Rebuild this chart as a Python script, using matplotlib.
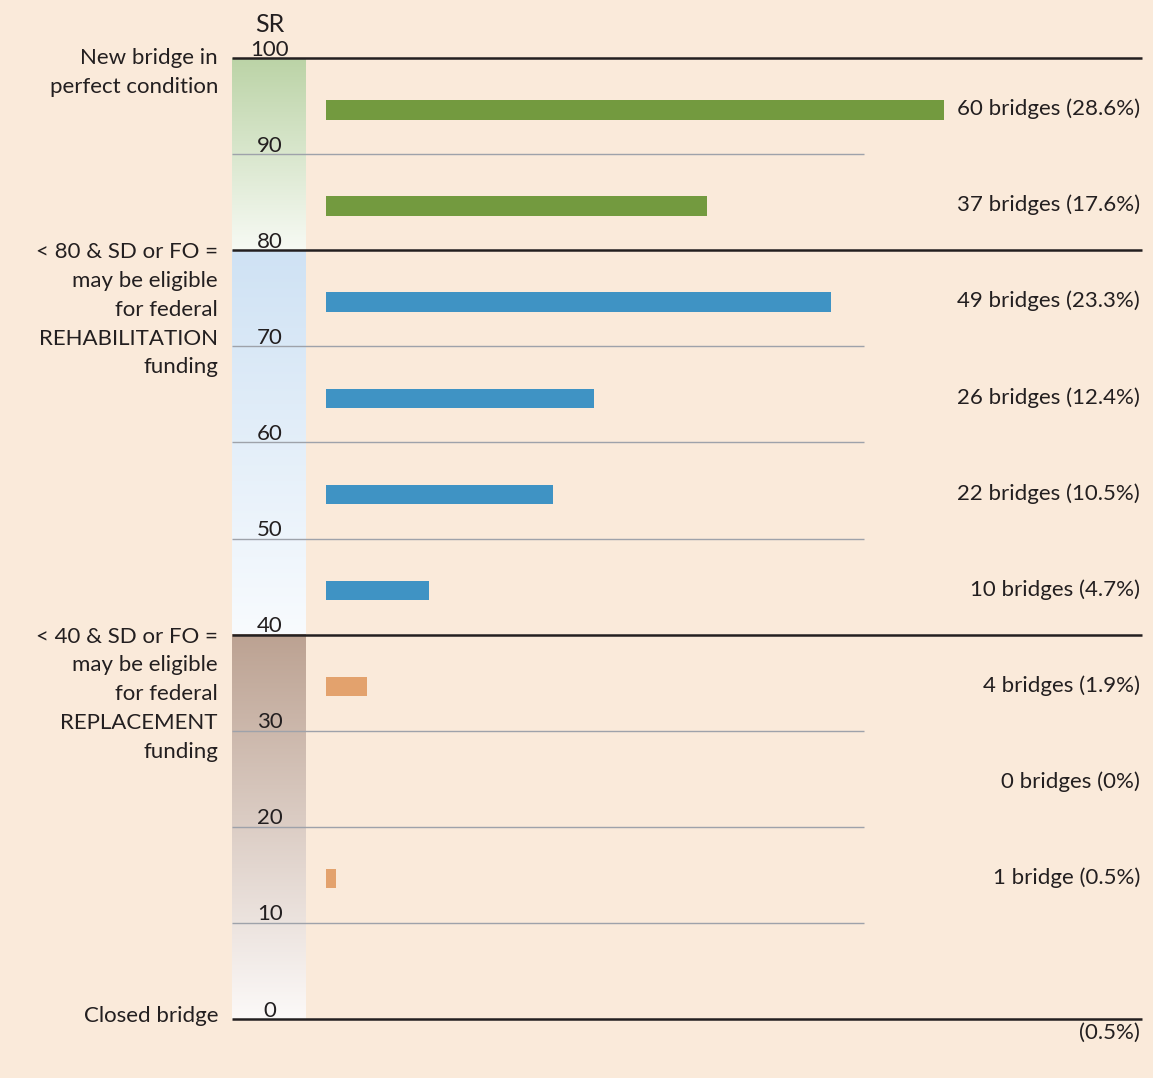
import numpy as np
import matplotlib.pyplot as plt
from matplotlib.colors import to_rgb

plt.rcParams['font.family'] = ['Lato', 'DejaVu Sans']

# sufficiency rating bins (midpoints) and bridge counts
bin_mid = [95, 85, 75, 65, 55, 45, 35, 25, 15]
counts = [60, 37, 49, 26, 22, 10, 4, 0, 1]
labels = ['60 bridges (28.6%)', '37 bridges (17.6%)', '49 bridges (23.3%)',
          '26 bridges (12.4%)', '22 bridges (10.5%)', '10 bridges (4.7%)',
          '4 bridges (1.9%)', '0 bridges (0%)', '1 bridge (0.5%)']
closed_label = '(0.5%)'
ticks = [100, 90, 80, 70, 60, 50, 40, 30, 20, 10, 0]
major = [100, 80, 40, 0]

bg = '#FAEADA'
green = '#739A3F'
blue = '#3F93C4'
orange = '#E3A26D'
ink = '#231F20'

def bar_color(v):
    if v >= 80:
        return green
    if v >= 40:
        return blue
    return orange

W, H = 1153, 1078
fig = plt.figure(figsize=(W / 100, H / 100), dpi=100, facecolor=bg)

# axes placed in pixel terms
x0, x1 = 232, 1142
y_top, y_bot = 58, 1019
ax = fig.add_axes([x0 / W, 1 - y_bot / H, (x1 - x0) / W, (y_bot - y_top) / H])
ax.set_facecolor(bg)
ax.axis('off')

px_per_bridge = 10.3
bar_x0 = 326
xmin = -(bar_x0 - x0) / px_per_bridge
xmax = (x1 - bar_x0) / px_per_bridge
ax.set_xlim(xmin, xmax)
ax.set_ylim(0, 100)
col_right = -(bar_x0 - 306) / px_per_bridge
grid_right = (864 - bar_x0) / px_per_bridge
label_x = (1140 - bar_x0) / px_per_bridge
left_x = (218 - bar_x0) / px_per_bridge
tick_x = (270 - bar_x0) / px_per_bridge


# gradient column
def grad(top, bottom, n=200):
    t = np.linspace(0, 1, n)[:, None]
    a = np.array(to_rgb(top))
    b = np.array(to_rgb(bottom))
    return (a * (1 - t) + b * t)[:, None, :]

sections = [(100, 80, '#BBD3A6', '#F7FAF4'),
            (80, 40, '#CFE2F4', '#F8FBFE'),
            (40, 0, '#BCA292', '#FCF9F8')]
for top, bot, ct, cb in sections:
    ax.imshow(grad(ct, cb), extent=[xmin, col_right, bot, top],
              aspect='auto', interpolation='bilinear', zorder=1)

# grid lines
for t in ticks:
    if t in major:
        ax.plot([xmin, xmax], [t, t], color=ink, lw=1.8, zorder=3,
                solid_capstyle='butt', clip_on=False)
    else:
        ax.plot([xmin, grid_right], [t, t], color='#9EA2AA', lw=1.0, zorder=2,
                solid_capstyle='butt')
    ax.text(tick_x, t + 0.25, str(t), ha='center', va='baseline', fontsize=16,
            color=ink, zorder=4, clip_on=False)

ax.text(tick_x, 102.7, 'SR', ha='center', va='baseline', fontsize=18,
        color=ink, clip_on=False)

# bars
ax.barh([m - 0.4 for m in bin_mid], counts, height=2.0, left=0,
        color=[bar_color(m) for m in bin_mid], zorder=3)

for m, lab in zip(bin_mid, labels):
    ax.text(label_x, m - 0.3, lab, ha='right', va='center', fontsize=16,
            color=ink)
ax.text(label_x, -1.4, closed_label, ha='right', va='center', fontsize=16,
        color=ink, clip_on=False)

# left side notes
notes = [
    (100.0, ['New bridge in', 'perfect condition']),
    (79.8, ['< 80 & SD or FO =', 'may be eligible', 'for federal',
            'REHABILITATION', 'funding']),
    (39.8, ['< 40 & SD or FO =', 'may be eligible', 'for federal',
            'REPLACEMENT', 'funding']),
    (0.3, ['Closed bridge']),
]
for y, lines in notes:
    for i, s in enumerate(lines):
        ax.text(left_x, y - i * 3.0, s, ha='right', va='center', fontsize=16,
                color=ink, clip_on=False)

fig.savefig('out.png', dpi=100, facecolor=bg)
